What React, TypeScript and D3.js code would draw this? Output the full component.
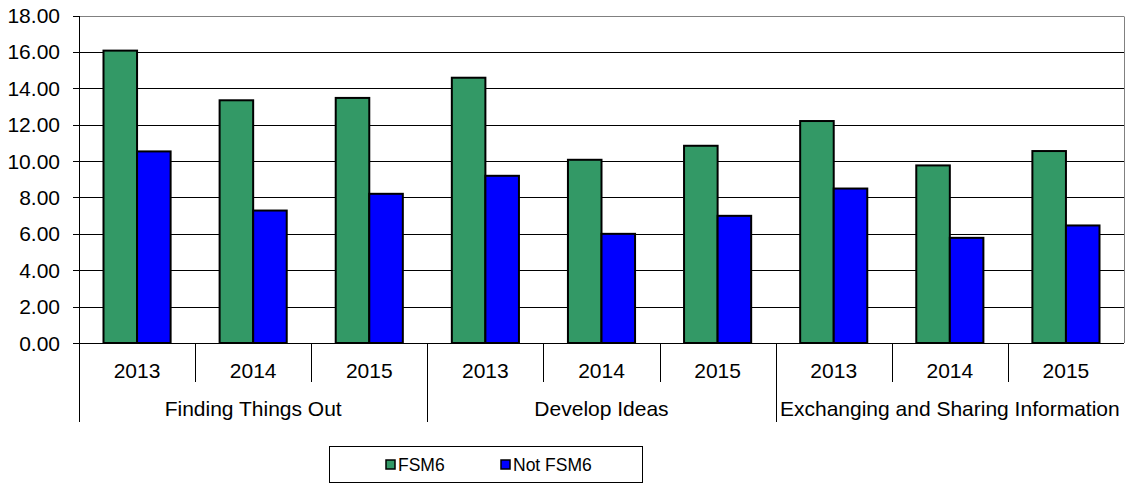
import React, { useRef, useEffect } from "react";
import * as d3 from "d3";

const groups = ["Finding Things Out", "Develop Ideas", "Exchanging and Sharing Information"];
const years = ["2013", "2014", "2015"];
const seriesNames = ["FSM6", "Not FSM6"];
const seriesColors = ["#339966", "#0000FF"];
const fsm6 = [16.07, 13.34, 13.47, 14.58, 10.07, 10.84, 12.2, 9.76, 10.55];
const notFsm6 = [10.53, 7.28, 8.2, 9.19, 6.0, 6.99, 8.49, 5.78, 6.46];
const yTicks = [0, 2, 4, 6, 8, 10, 12, 14, 16, 18];

const App: React.FC = () => {
  const svgRef = useRef<SVGSVGElement>(null);

  useEffect(() => {
    const width = 1128;
    const height = 486;
    const left = 79;
    const right = 1124;
    const top = 15.5;
    const bottom = 343;
    const font = "Liberation Sans, Arial, sans-serif";
    const axisSize = "21px";

    const svg = d3.select(svgRef.current);
    svg.selectAll("*").remove();
    svg.attr("width", width).attr("height", height);

    // categories: one per group/year pair
    const cats: string[] = [];
    groups.forEach((g) => years.forEach((yr) => cats.push(g + "|" + yr)));

    const x = d3.scaleBand().domain(cats).range([left, right]).paddingInner(0).paddingOuter(0);
    const inner = d3.scaleBand().domain(seriesNames).range([0, x.bandwidth()]).paddingInner(0).paddingOuter(0.73);
    const y = d3.scaleLinear().domain([0, 18]).range([bottom, top]);

    // gridlines
    svg
      .append("g")
      .selectAll("line")
      .data(yTicks.filter((t) => t > 0))
      .enter()
      .append("line")
      .attr("x1", left)
      .attr("x2", right)
      .attr("y1", (d) => Math.round(y(d)) + 0.5)
      .attr("y2", (d) => Math.round(y(d)) + 0.5)
      .style("stroke", (d) => (d === 18 ? "#808080" : "#000"))
      .style("stroke-width", 1);

    // right border
    svg
      .append("line")
      .attr("x1", right + 0.5)
      .attr("x2", right + 0.5)
      .attr("y1", Math.round(top) + 0.5)
      .attr("y2", bottom)
      .style("stroke", "#808080");

    // bars
    const allSeries = [fsm6, notFsm6];
    allSeries.forEach((vals, si) => {
      svg
        .append("g")
        .selectAll("rect")
        .data(vals)
        .enter()
        .append("rect")
        .attr("x", (_d, i) => (x(cats[i]) as number) + (inner(seriesNames[si]) as number))
        .attr("y", (d) => y(d))
        .attr("width", inner.bandwidth())
        .attr("height", (d) => bottom - y(d))
        .style("fill", seriesColors[si])
        .style("stroke", "#000")
        .style("stroke-width", 2);
    });

    // y axis
    const yAxis = svg.append("g");
    yAxis
      .append("line")
      .attr("x1", left + 0.5)
      .attr("x2", left + 0.5)
      .attr("y1", Math.round(top))
      .attr("y2", bottom + 0.5)
      .style("stroke", "#000");
    yAxis
      .selectAll("line.tick")
      .data(yTicks)
      .enter()
      .append("line")
      .attr("class", "tick")
      .attr("x1", left - 6)
      .attr("x2", left)
      .attr("y1", (d) => Math.round(y(d)) + 0.5)
      .attr("y2", (d) => Math.round(y(d)) + 0.5)
      .style("stroke", "#000");
    yAxis
      .selectAll("text")
      .data(yTicks)
      .enter()
      .append("text")
      .attr("x", 60)
      .attr("y", (d) => y(d))
      .attr("dy", "0.36em")
      .attr("text-anchor", "end")
      .style("font-family", font)
      .style("font-size", axisSize)
      .style("fill", "#000")
      .text((d) => d3.format(".2f")(d));

    // x axis line
    svg
      .append("line")
      .attr("x1", left)
      .attr("x2", right)
      .attr("y1", bottom + 0.5)
      .attr("y2", bottom + 0.5)
      .style("stroke", "#000");

    // category separators
    svg
      .append("g")
      .selectAll("line")
      .data(cats)
      .enter()
      .append("line")
      .attr("x1", (d) => Math.round(x(d) as number) + 0.5)
      .attr("x2", (d) => Math.round(x(d) as number) + 0.5)
      .attr("y1", bottom)
      .attr("y2", (_d, i) => (i % years.length === 0 ? 422 : 382))
      .style("stroke", "#000");

    // year labels
    svg
      .append("g")
      .selectAll("text")
      .data(cats)
      .enter()
      .append("text")
      .attr("x", (d) => (x(d) as number) + x.bandwidth() / 2)
      .attr("y", 370)
      .attr("dy", "0.36em")
      .attr("text-anchor", "middle")
      .style("font-family", font)
      .style("font-size", axisSize)
      .text((d) => d.split("|")[1]);

    // group labels
    svg
      .append("g")
      .selectAll("text")
      .data(groups)
      .enter()
      .append("text")
      .attr("x", (_d, i) => (x(cats[i * 3]) as number) + (x.bandwidth() * 3) / 2)
      .attr("y", 408)
      .attr("dy", "0.36em")
      .attr("text-anchor", "middle")
      .style("font-family", font)
      .style("font-size", axisSize)
      .text((d) => d);

    // legend
    const legend = svg.append("g");
    legend
      .append("rect")
      .attr("x", 329.5)
      .attr("y", 446.5)
      .attr("width", 313)
      .attr("height", 36)
      .style("fill", "#fff")
      .style("stroke", "#000");
    const legendX = [385, 500];
    seriesNames.forEach((name, i) => {
      legend
        .append("rect")
        .attr("x", legendX[i] + 1)
        .attr("y", 460)
        .attr("width", 9)
        .attr("height", 9)
        .style("fill", seriesColors[i])
        .style("stroke", "#000")
        .style("stroke-width", 1.5);
      legend
        .append("text")
        .attr("x", legendX[i] + 13)
        .attr("y", 464.5)
        .attr("dy", "0.36em")
        .style("font-family", font)
        .style("font-size", "17.5px")
        .text(name);
    });
  }, []);

  return <svg ref={svgRef} style={{ position: "absolute", left: 0, top: 0 }}></svg>;
};

export default App;
